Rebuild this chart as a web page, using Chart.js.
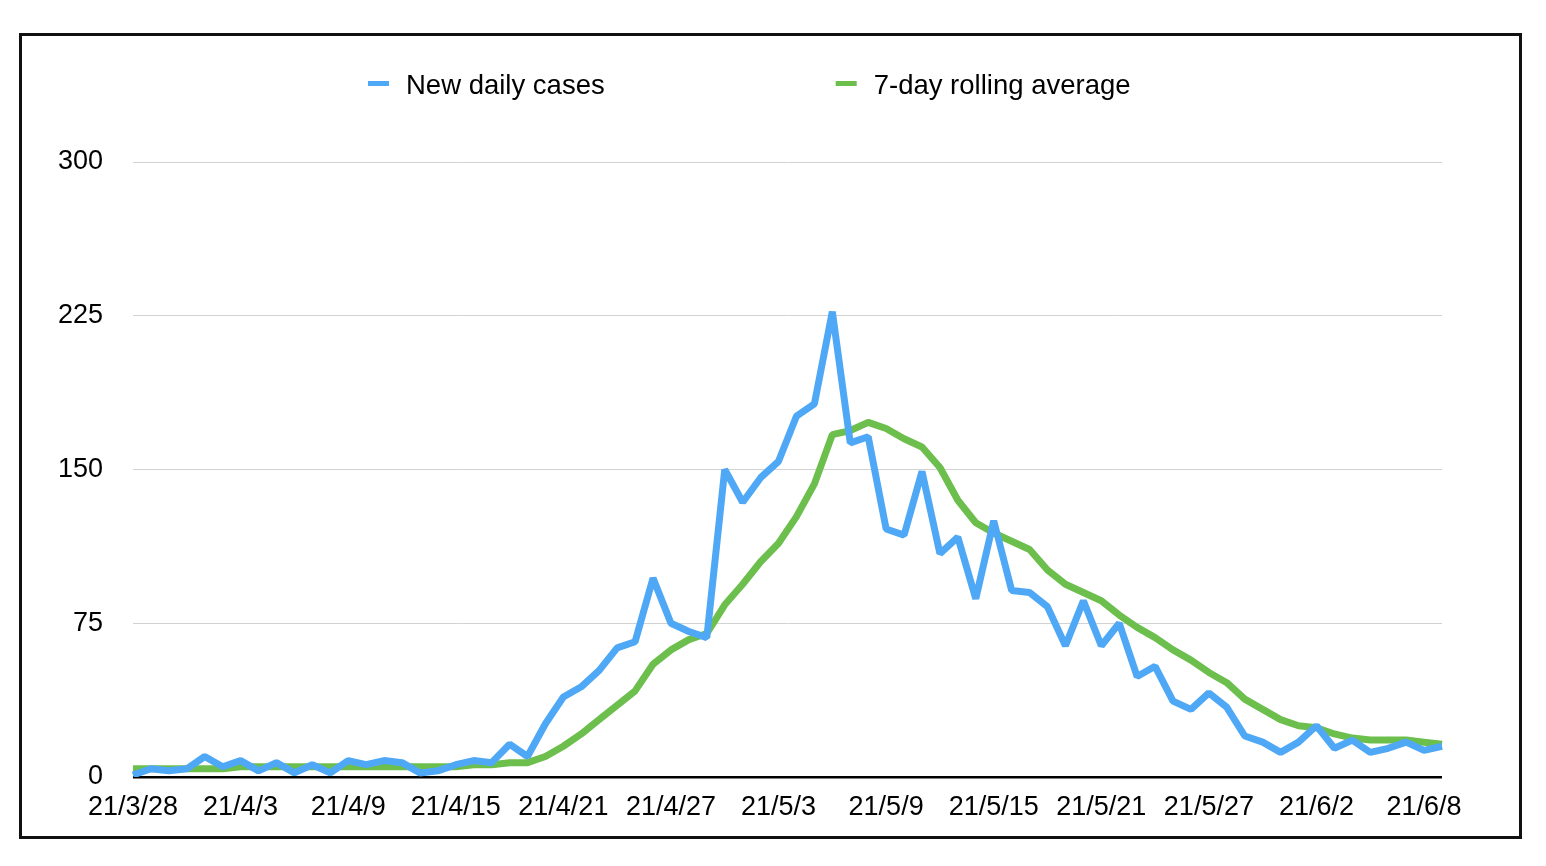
<!DOCTYPE html>
<html>
<head>
<meta charset="utf-8">
<script src="https://cdn.jsdelivr.net/npm/chart.js@4.4.1/dist/chart.umd.min.js"></script>
<style>
  html, body { margin: 0; padding: 0; background: #fff; }
  #wrap { position: relative; width: 1546px; height: 866px; }
  #marco {
    position: absolute; left: 19px; top: 33px; width: 1503px; height: 806px;
    border: 3px solid #111; box-sizing: border-box; pointer-events: none;
  }
</style>
</head>
<body>
<div id="wrap">
  <canvas id="grafico"></canvas>
  <div id="marco"></div>
</div>
<script>
// fechas (21/3/28 .. 21/6/9), una por dia
var fechas = [
  '21/3/28','21/3/29','21/3/30','21/3/31',
  '21/4/1','21/4/2','21/4/3','21/4/4','21/4/5','21/4/6','21/4/7','21/4/8','21/4/9','21/4/10',
  '21/4/11','21/4/12','21/4/13','21/4/14','21/4/15','21/4/16','21/4/17','21/4/18','21/4/19','21/4/20',
  '21/4/21','21/4/22','21/4/23','21/4/24','21/4/25','21/4/26','21/4/27','21/4/28','21/4/29','21/4/30',
  '21/5/1','21/5/2','21/5/3','21/5/4','21/5/5','21/5/6','21/5/7','21/5/8','21/5/9','21/5/10',
  '21/5/11','21/5/12','21/5/13','21/5/14','21/5/15','21/5/16','21/5/17','21/5/18','21/5/19','21/5/20',
  '21/5/21','21/5/22','21/5/23','21/5/24','21/5/25','21/5/26','21/5/27','21/5/28','21/5/29','21/5/30',
  '21/5/31','21/6/1','21/6/2','21/6/3','21/6/4','21/6/5','21/6/6','21/6/7','21/6/8','21/6/9'
];

// casos nuevos por dia
var casos_diarios = [
  1, 4, 3, 4, 10, 5, 8, 3, 7, 2,
  6, 2, 8, 6, 8, 7, 2, 3, 6, 8,
  7, 16, 10, 26, 39, 44, 52, 63, 66, 97,
  75, 71, 68, 150, 134, 146, 154, 176, 182, 227,
  163, 166, 121, 118, 149, 109, 117, 87, 125, 91,
  90, 83, 64, 86, 64, 75, 49, 54, 37, 33,
  41, 34, 20, 17, 12, 17, 25, 14, 18, 12,
  14, 17, 13, 15
];

// media movil de 7 dias
var media_7_dias = [
  4, 4, 4, 4, 4, 4, 5, 5, 5, 5,
  5, 5, 5, 5, 5, 5, 5, 5, 5, 6,
  6, 7, 7, 10, 15, 21, 28, 35, 42, 55,
  62, 67, 70, 84, 94, 105, 114, 127, 143, 167,
  169, 173, 170, 165, 161, 151, 135, 124, 119, 115,
  111, 101, 94, 90, 86, 79, 73, 68, 62, 57,
  51, 46, 38, 33, 28, 25, 24, 21, 19, 18,
  18, 18, 17, 16
];

var ticks_y = [0, 75, 150, 225, 300];
var nombres_series = ['New daily cases', '7-day rolling average'];

var azul = '#4fa8f6';
var verde = '#6cbf4c';
var fuente = 'Helvetica, "Liberation Sans", Arial, sans-serif';

// leyenda dibujada a mano (separacion grande entre elementos)
var leyenda_propia = {
  id: 'leyenda_propia',
  afterDraw: function(chart) {
    var ctx = chart.ctx;
    ctx.save();
    ctx.font = '27.5px ' + fuente;
    ctx.textBaseline = 'middle';
    ctx.textAlign = 'left';
    var x = 368, y = 84;
    chart.data.datasets.forEach(function(ds) {
      ctx.fillStyle = ds.borderColor;
      ctx.fillRect(x, y - 3, 21, 5);
      ctx.fillStyle = '#000';
      ctx.fillText(ds.label, x + 38, y + 2);
      x += 38 + ctx.measureText(ds.label).width + 231;
    });
    ctx.restore();
  }
};

var configuracion = {
  type: 'line',
  data: {
    labels: fechas,
    datasets: [{
      label: nombres_series[0],
      data: casos_diarios,
      borderColor: azul,
      backgroundColor: azul,
      borderWidth: 7,
      borderJoinStyle: 'bevel',
      pointRadius: 0,
      tension: 0,
      fill: false
    }, {
      label: nombres_series[1],
      data: media_7_dias,
      borderColor: verde,
      backgroundColor: verde,
      borderWidth: 7,
      borderJoinStyle: 'bevel',
      pointRadius: 0,
      tension: 0,
      fill: false
    }]
  },
  options: {
    responsive: true,
    maintainAspectRatio: false,
    animation: false,
    layout: { padding: { top: 162, right: 104, left: 0, bottom: 0 } },
    plugins: {
      legend: { display: false },
      tooltip: { enabled: false }
    },
    scales: {
      x: {
        grid: { display: false },
        border: { display: false },
        afterFit: function(s) { s.height = 89; },
        ticks: {
          autoSkip: false,
          maxRotation: 0,
          padding: 6,
          color: '#000',
          font: { family: fuente, size: 27 },
          callback: function(v, i) { return i % 6 === 0 ? fechas[i] : ''; }
        }
      },
      y: {
        min: 0,
        max: 300,
        afterFit: function(s) { s.width = 133; },
        afterBuildTicks: function(s) {
          s.ticks = ticks_y.map(function(v) { return { value: v }; });
        },
        border: { display: false },
        grid: {
          drawTicks: false,
          color: function(c) { return c.tick && c.tick.value === 0 ? '#000' : '#d2d2d2'; },
          lineWidth: function(c) { return c.tick && c.tick.value === 0 ? 2.5 : 1; }
        },
        ticks: {
          padding: 30,
          color: '#000',
          font: { family: fuente, size: 27 }
        }
      }
    }
  },
  plugins: [leyenda_propia]
};

var ctx = document.getElementById('grafico').getContext('2d');
window.mi_grafico = new Chart(ctx, configuracion);
</script>
</body>
</html>
